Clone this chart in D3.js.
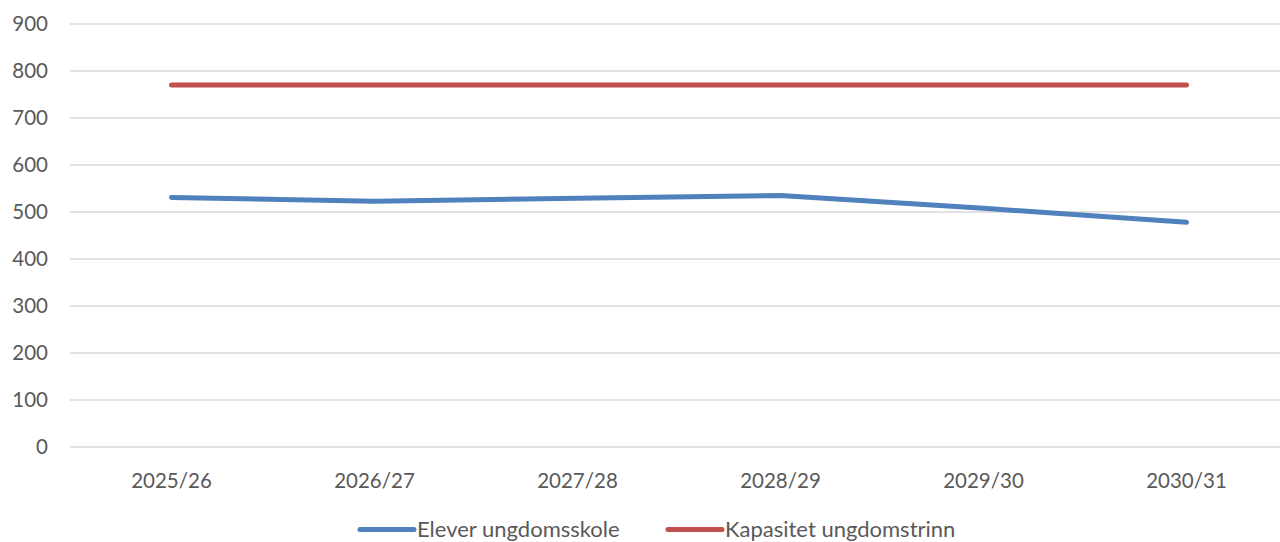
<!DOCTYPE html>
<html><head><meta charset="utf-8">
<script src="https://cdn.jsdelivr.net/npm/d3@7"></script>
<style>html,body{margin:0;padding:0;background:#fff;overflow:hidden}</style>
</head><body><svg id="c" width="1280" height="542"></svg>
<script>
const categories = ["2025/26","2026/27","2027/28","2028/29","2029/30","2030/31"];
const elever = [531, 523, 529, 535, 508, 478];
const kapasitet = [770, 770, 770, 770, 770, 770];
const yTicks = [0,100,200,300,400,500,600,700,800,900];
const seriesNames = ["Elever ungdomsskole","Kapasitet ungdomstrinn"];
const colors = ["#4F81BD","#C0504D"];

const svg = d3.select("#c");
const font = "Lato, 'Open Sans', sans-serif";
const fs = 20.5;
const x = d3.scaleBand().domain(categories).range([70, 1288]);
const y = d3.scaleLinear().domain([0,900]).range([447, 24]);

const g = svg.append("g");
g.selectAll("line.grid").data(yTicks).enter().append("line")
  .attr("x1",70).attr("x2",1288)
  .attr("y1",d=>y(d)).attr("y2",d=>y(d))
  .attr("stroke","#d9d9d9").attr("stroke-width",1.3);

g.selectAll("text.yl").data(yTicks).enter().append("text")
  .attr("x",48).attr("y",d=>y(d)).attr("dy","0.35em")
  .attr("text-anchor","end").attr("font-family",font).attr("font-size",fs)
  .attr("fill","#595959").text(d=>d);

g.selectAll("text.xl").data(categories).enter().append("text")
  .attr("x",d=>x(d)+x.bandwidth()/2).attr("y",481).attr("dy","0.35em")
  .attr("text-anchor","middle").attr("font-family",font).attr("font-size",fs)
  .attr("fill","#595959").text(d=>d);

const line = d3.line().x((d,i)=>x(categories[i])+x.bandwidth()/2).y(d=>y(d));
[elever,kapasitet].forEach((s,i)=>{
  g.append("path").attr("d",line(s)).attr("fill","none")
   .attr("stroke",colors[i]).attr("stroke-width",5)
   .attr("stroke-linecap","round").attr("stroke-linejoin","round");
});

const legX = [360, 668];
seriesNames.forEach((n,i)=>{
  g.append("line").attr("x1",legX[i]).attr("x2",legX[i]+54).attr("y1",529.5).attr("y2",529.5)
   .attr("stroke",colors[i]).attr("stroke-width",5).attr("stroke-linecap","round");
  g.append("text").attr("x",legX[i]+57).attr("y",536.5)
   .attr("font-family",font).attr("font-size",22).attr("fill","#595959").text(n);
});
</script></body></html>
